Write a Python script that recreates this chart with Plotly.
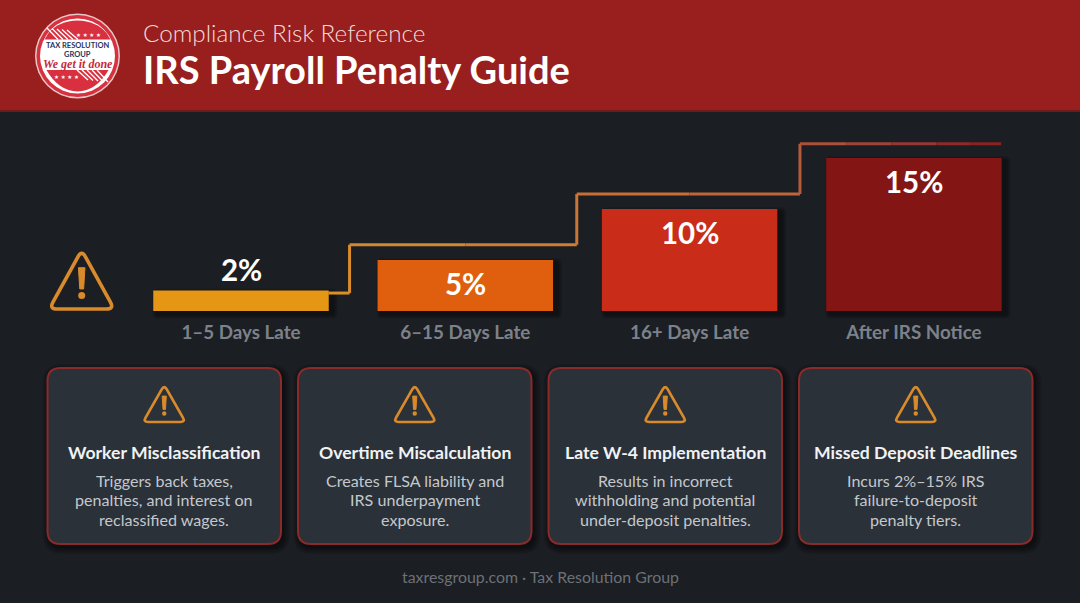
import plotly.graph_objects as go

W, H = 1080, 603

# chart data
categories = ['1–5 Days Late', '6–15 Days Late', '16+ Days Late', 'After IRS Notice']
penalties = [2, 5, 10, 15]
bar_colors = ['#e59614', '#df5f0e', '#c92d19', '#841515']

# stepped line above the bars (bar units / percent), colour fades along it
step_x = [0.39, 0.484, 0.484, 1.0, 1.497, 1.497, 2.0, 2.492, 2.492, 2.7, 2.9, 3.1, 3.25, 3.389]
step_y = [1.76, 1.76, 6.5, 6.5, 6.5, 11.47, 11.47, 11.47, 16.4, 16.4, 16.4, 16.4, 16.4, 16.4]
step_colors = ['#dd9026', '#da8c2c', '#d58630', '#cf7e34', '#ca7736', '#c67038', '#bd663a',
               '#b45c3a', '#ab503a', '#a14338', '#983632', '#902a28', '#8a2220']

# cards
card_titles = ['Worker Misclassification', 'Overtime Miscalculation',
               'Late W-4 Implementation', 'Missed Deposit Deadlines']
card_lines = [
    ['Triggers back taxes,', 'penalties, and interest on', 'reclassified wages.'],
    ['Creates FLSA liability and', 'IRS underpayment', 'exposure.'],
    ['Results in incorrect', 'withholding and potential', 'under-deposit penalties.'],
    ['Incurs 2%–15% IRS', 'failure-to-deposit', 'penalty tiers.'],
]
card_left = [47.5, 298, 548.5, 799]

FONT = 'Lato'
BG = '#1b1e23'
ORANGE = '#d98a2b'

# pixel layout of the bar area
BASE_Y = 311
PX_PER_PCT = 10.2
BAR_STEP = 224.3
BAR_W = 175.5
FIRST_X = 241
Y_MAX = 16.8


def X(px):
    return px / W


def Y(py):
    return 1 - py / H


shapes = []
annotations = []


def rect(x0, y0, x1, y1, fill):
    shapes.append(dict(type='rect', xref='paper', yref='paper', x0=X(x0), x1=X(x1),
                       y0=Y(y1), y1=Y(y0), fillcolor=fill, line_width=0, layer='below'))


def circle(cx, cy, r, fill, line=None, lw=0):
    shapes.append(dict(type='circle', xref='paper', yref='paper', x0=X(cx - r), x1=X(cx + r),
                       y0=Y(cy + r), y1=Y(cy - r), fillcolor=fill,
                       line=dict(color=line or 'rgba(0,0,0,0)', width=lw), layer='below'))


def path(d, fill='rgba(0,0,0,0)', line='rgba(0,0,0,0)', lw=0):
    shapes.append(dict(type='path', xref='paper', yref='paper', path=d, fillcolor=fill,
                       line=dict(color=line, width=lw), layer='below'))


def P(x, y):
    return f'{X(x):.5f},{Y(y):.5f}'


def round_rect(x0, y0, x1, y1, r, fill, line='rgba(0,0,0,0)', lw=0):
    d = (f'M{P(x0 + r, y0)} L{P(x1 - r, y0)} Q{P(x1, y0)} {P(x1, y0 + r)} '
         f'L{P(x1, y1 - r)} Q{P(x1, y1)} {P(x1 - r, y1)} '
         f'L{P(x0 + r, y1)} Q{P(x0, y1)} {P(x0, y1 - r)} '
         f'L{P(x0, y0 + r)} Q{P(x0, y0)} {P(x0 + r, y0)} Z')
    path(d, fill, line, lw)


def text(x, y, s, size, color, weight=400, anchor='center', family=FONT, style='normal'):
    annotations.append(dict(xref='paper', yref='paper', x=X(x), y=Y(y), text=s, showarrow=False,
                            xanchor=anchor, yanchor='middle', align=anchor,
                            font=dict(family=family, size=size, color=color, weight=weight, style=style)))


def warning_icon(cx, top, bottom, half, lw, color=ORANGE):
    r = half * 0.24
    ax, ay = cx, top
    bx, by = cx + half, bottom
    gx, gy = cx - half, bottom
    ln = ((bx - ax) ** 2 + (by - ay) ** 2) ** 0.5
    ux, uy = (bx - ax) / ln, (by - ay) / ln
    d = (f'M{P(ax + ux * r, ay + uy * r)} L{P(bx - ux * r, by - uy * r)} '
         f'Q{P(bx, by)} {P(bx - r, by)} L{P(gx + r, gy)} '
         f'Q{P(gx, gy)} {P(gx + ux * r, gy - uy * r)} '
         f'L{P(ax - ux * r, ay + uy * r)} Q{P(ax, ay)} {P(ax + ux * r, ay + uy * r)} Z')
    path(d, line=color, lw=lw)
    h = bottom - top
    w = h * 0.055
    path(f'M{P(cx - w, top + .30 * h)} L{P(cx + w, top + .30 * h)} '
         f'L{P(cx + w * .6, top + .66 * h)} L{P(cx - w * .6, top + .66 * h)} Z',
         fill=color, line=color, lw=1)
    circle(cx, top + .77 * h, h * 0.06, color)


# header band
rect(0, 0, W, 110, '#991f1e')
rect(0, 110, W, 112, '#701a1a')

# logo
LX, LY = 77.5, 56
circle(LX, LY, 42.5, '#e8c9c9')
circle(LX, LY, 41, '#d8303f')
circle(LX, LY, 37.5, '#ffffff')
# red caps of the badge
path(f'M{P(LX - 29, 33)} Q{P(LX - 19, 21)} {P(LX, 20.5)} Q{P(LX + 19, 21)} {P(LX + 29, 33)} '
     f'L{P(LX + 33, 39.5)} L{P(LX - 33, 39.5)} Z', fill='#d8303f')
path(f'M{P(LX - 31, 70)} L{P(LX + 31, 70)} Q{P(LX + 19, 91)} {P(LX, 91.5)} '
     f'Q{P(LX - 19, 91)} {P(LX - 31, 70)} Z', fill='#d8303f')
for i in range(5):
    path(f'M{P(47 + i * 5, 28 + i * 0.5)} L{P(58 + i * 5, 39.5)}', line='#ffffff', lw=1.3)
    path(f'M{P(97 - i * 5, 70)} L{P(108 - i * 5, 82 - i * 0.5)}', line='#ffffff', lw=1.3)
text(88, 35, '★ ★ ★ ★', 5.5, '#ffffff', family='DejaVu Sans')
text(66, 77, '★ ★ ★ ★', 5.5, '#ffffff', family='DejaVu Sans')
text(LX, 46, 'TAX RESOLUTION', 7.5, '#27325f', 700)
text(LX, 54.5, 'GROUP', 7.5, '#27325f', 700)
text(LX, 63.5, 'We get it done', 12, '#c62a3c', 700, family='Liberation Serif', style='italic')

# header text
text(141, 32.5, 'Compliance Risk Reference', 24.3, '#f2dcd9', 300, anchor='left')
text(141, 69, 'IRS Payroll Penalty Guide', 38, '#ffffff', 700, anchor='left')

# big warning icon
warning_icon(81.7, 250, 309, 32.5, 3.6)

# bar shadows and value labels
for i, v in enumerate(penalties):
    cx = FIRST_X + i * BAR_STEP
    top = BASE_Y - v * PX_PER_PCT
    for k in range(5, 0, -1):
        round_rect(cx - BAR_W / 2 + 4 - k, top + 3 - k, cx + BAR_W / 2 + 4 + k, BASE_Y + 3 + k,
                   k + 1, 'rgba(0,0,0,0.09)')
    annotations.append(dict(xref='x', yref='y', x=i, y=v, text=f'{v}%', showarrow=False,
                            yanchor='middle', yshift=21 if v == 2 else -23,
                            font=dict(family=FONT, size=29.5, color='#ffffff', weight=700)))

# cards
CARD_W, CARD_TOP, CARD_BOTTOM = 233.5, 368, 544
for left, title, lines in zip(card_left, card_titles, card_lines):
    for k in range(7, 0, -1):
        round_rect(left - k + 2, CARD_TOP - k + 3, left + CARD_W + k + 2, CARD_BOTTOM + k + 3,
                   12 + k, 'rgba(0,0,0,0.07)')
    round_rect(left, CARD_TOP, left + CARD_W, CARD_BOTTOM, 13, '#2a3139', '#8a2b2a', 2)
    mid = left + CARD_W / 2
    warning_icon(mid, 385, 422, 21.2, 2.7)
    text(mid, 452.5, title, 17.6, '#f1f2f3', 700)
    for n, s in enumerate(lines):
        text(mid, 480 + n * 19.5, s, 16.1, '#c4c8cc')

# footer
text(540, 576, 'taxresgroup.com · Tax Resolution Group', 15.9, '#6c7177')

fig = go.Figure()
fig.add_bar(x=list(range(len(penalties))), y=penalties, marker_color=bar_colors, marker_line_width=0,
            width=BAR_W / BAR_STEP, hoverinfo='skip')
for i, c in enumerate(step_colors):
    fig.add_scatter(x=step_x[i:i + 2], y=step_y[i:i + 2], mode='lines', hoverinfo='skip',
                    line=dict(color=c, width=3))

# domain picked so that one bar step and one percent land on the measured pixels
left_px = FIRST_X - BAR_STEP / 2
right_px = FIRST_X + 3.5 * BAR_STEP
fig.update_layout(
    width=W, height=H, margin=dict(l=0, r=0, t=0, b=0),
    paper_bgcolor=BG, plot_bgcolor='rgba(0,0,0,0)', showlegend=False,
    shapes=shapes, annotations=annotations,
    xaxis=dict(domain=[X(left_px), X(right_px)], range=[-0.5, 3.5],
               tickmode='array', tickvals=list(range(len(categories))), ticktext=categories,
               tickfont=dict(family=FONT, size=18.8, color='#7d828a', weight=700),
               ticks='', showgrid=False, zeroline=False, showline=False, ticklabelstandoff=8),
    yaxis=dict(domain=[Y(BASE_Y), Y(BASE_Y - Y_MAX * PX_PER_PCT)], range=[0, Y_MAX], visible=False),
)

fig.write_html('out.html', config={'displayModeBar': False},
               post_script="document.body.style.margin='0';document.body.style.background='#1b1e23';")
